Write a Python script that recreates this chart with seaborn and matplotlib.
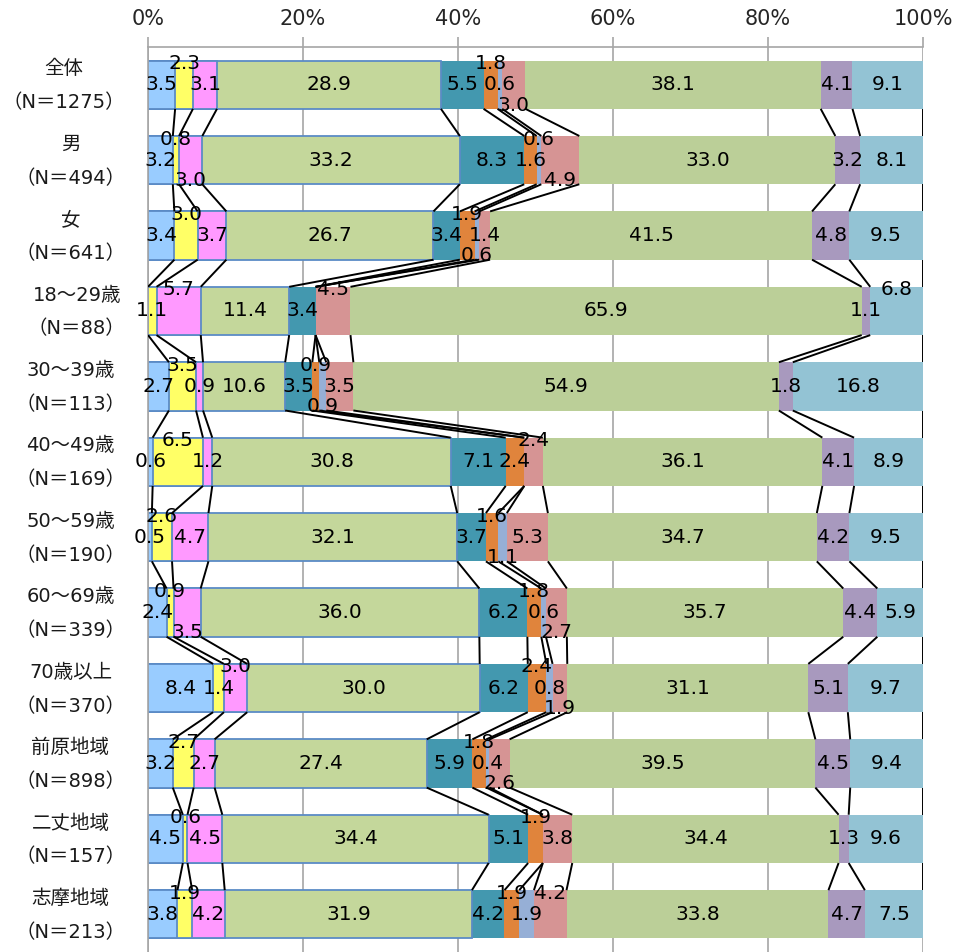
import numpy as np
import pandas as pd
import matplotlib
matplotlib.use("Agg")
import matplotlib.pyplot as plt
import matplotlib.transforms as mtransforms
import seaborn as sns

# ---- data -------------------------------------------------------------
groups = ["全体", "男", "女", "18〜29歳", "30〜39歳", "40〜49歳", "50〜59歳",
          "60〜69歳", "70歳以上", "前原地域", "二丈地域", "志摩地域"]
sizes = [1275, 494, 641, 88, 113, 169, 190, 339, 370, 898, 157, 213]

# share of answers (%) per group, one list per response category
cat01 = [3.5, 3.2, 3.4, 0.0, 2.7, 0.6, 0.5, 2.4, 8.4, 3.2, 4.5, 3.8]
cat02 = [2.3, 0.8, 3.0, 1.1, 3.5, 6.5, 2.6, 0.9, 1.4, 2.7, 0.6, 1.9]
cat03 = [3.1, 3.0, 3.7, 5.7, 0.9, 1.2, 4.7, 3.5, 3.0, 2.7, 4.5, 4.2]
cat04 = [28.9, 33.2, 26.7, 11.4, 10.6, 30.8, 32.1, 36.0, 30.0, 27.4, 34.4, 31.9]
cat05 = [5.5, 8.3, 3.4, 3.4, 3.5, 7.1, 3.7, 6.2, 6.2, 5.9, 5.1, 4.2]
cat06 = [1.8, 1.6, 1.9, 0.0, 0.9, 2.4, 1.6, 1.8, 2.4, 1.8, 1.9, 1.9]
cat07 = [0.6, 0.6, 0.6, 0.0, 0.9, 0.0, 1.1, 0.6, 0.8, 0.4, 0.0, 1.9]
cat08 = [3.0, 4.9, 1.4, 4.5, 3.5, 2.4, 5.3, 2.7, 1.9, 2.6, 3.8, 4.2]
cat09 = [38.1, 33.0, 41.5, 65.9, 54.9, 36.1, 34.7, 35.7, 31.1, 39.5, 34.4, 33.8]
cat10 = [4.1, 3.2, 4.8, 1.1, 1.8, 4.1, 4.2, 4.4, 5.1, 4.5, 1.3, 4.7]
cat11 = [9.1, 8.1, 9.5, 6.8, 16.8, 8.9, 9.5, 5.9, 9.7, 9.4, 9.6, 7.5]

series = [cat01, cat02, cat03, cat04, cat05, cat06, cat07, cat08, cat09, cat10, cat11]
series_names = [f"cat{i + 1:02d}" for i in range(len(series))]
x_ticks = [0, 20, 40, 60, 80, 100]
x_tick_labels = ["0%", "20%", "40%", "60%", "80%", "100%"]

# ---- styling ------------------------------------------------------------
colors = ["#99CCFF", "#FFFF66", "#FF99FF", "#C4D79B", "#4398AF", "#E0843C",
          "#96AFD6", "#D69494", "#BBCF98", "#A899BE", "#93C3D4"]
outlined = [True, True, True, True] + [False] * 7
edge_blue = "#5B8BC6"
grid_gray = "#A6A6A6"
bar_width = 0.64

sns.set_theme(style="white")
plt.rcParams["font.family"] = ["DejaVu Sans", "Noto Sans CJK JP"]

# ---- table ------------------------------------------------------------------
labels = [f"{g}\n（N＝{n}）" for g, n in zip(groups, sizes)]
values = np.array(series, dtype=float).T            # rows = groups
totals = values.sum(axis=1, keepdims=True)
shares = values / totals * 100                       # 100% stacked
cum_end = np.cumsum(shares, axis=1)
cum_start = cum_end - shares

long = pd.DataFrame({
    "label": np.repeat(labels, len(series)),
    "series": series_names * len(labels),
    "value": values.ravel(),
    "end": cum_end.ravel(),
})

fig = plt.figure(figsize=(9.54, 9.52), dpi=100)
ax = fig.add_axes([148 / 954, 0, 775 / 954, 905 / 952])

# stacked bars: draw cumulative totals from the outermost series inwards
for k in reversed(range(len(series))):
    part = long[long["series"] == series_names[k]]
    sns.barplot(data=part, x="end", y="label", order=labels, orient="h",
                color=colors[k], saturation=1, width=bar_width, errorbar=None,
                edgecolor=edge_blue if outlined[k] else "none",
                linewidth=1.3 if outlined[k] else 0, ax=ax, zorder=2)

# series lines joining each category boundary between neighbouring bars
half = bar_width / 2
for i in range(len(labels) - 1):
    for k in range(len(series)):
        ax.plot([cum_end[i, k], cum_end[i + 1, k]], [i + half, i + 1 - half],
                color="black", lw=1.4, zorder=3, solid_capstyle="butt")

ax.set_xlim(0, 100)
ax.set_ylim(len(labels) - 0.5, -0.5)
ax.set_xlabel("")
ax.set_ylabel("")

# ---- value labels, staggered where neighbours would collide ---------------------
renderer = fig.canvas.get_renderer()
px_per_unit = ax.transData.transform((1, 0))[0] - ax.transData.transform((0, 0))[0]
gap = 1.5 / px_per_unit
level_dy = {0: 0.0, -1: -0.28, 1: 0.27}
for i in range(len(labels)):
    last_right = {0: -np.inf, -1: -np.inf, 1: -np.inf}
    for k in range(len(series)):
        v = values[i, k]
        if v <= 0:
            continue
        c = cum_start[i, k] + shares[i, k] / 2
        t = ax.text(c, i, f"{v:.1f}", ha="center", va="center",
                    fontsize=14.5, color="black", zorder=4)
        w = t.get_window_extent(renderer).width / px_per_unit
        left = c - w / 2
        chosen = None
        for lvl in (0, -1, 1):
            if left >= last_right[lvl] + gap:
                chosen = lvl
                break
        if chosen is None:
            chosen = min(last_right, key=last_right.get)
            c = last_right[chosen] + gap + w / 2
        t.set_position((c, i + level_dy[chosen]))
        last_right[chosen] = c + w / 2

# ---- axes decoration ----------------------------------------------------------
ax.xaxis.tick_top()
ax.set_xticks(x_ticks, x_tick_labels)
ax.tick_params(axis="x", which="major", direction="out", length=7, width=1.2,
               color=grid_gray, labelsize=15, pad=6, top=True, bottom=False,
               labeltop=True, labelbottom=False)
ax.set_axisbelow(True)
ax.grid(axis="x", color=grid_gray, lw=1.2, zorder=0)
ax.grid(axis="y", visible=False)

# group names with sample sizes, two centred lines beside each bar
ax.set_yticks(range(len(labels)), [""] * len(labels))
ax.tick_params(axis="y", length=0)
label_trans = mtransforms.blended_transform_factory(ax.transAxes, ax.transData)
for i, lab in enumerate(labels):
    ax.text(-0.029, i + 0.015, lab, transform=label_trans, ha="right",
            va="center", multialignment="center", linespacing=2.0,
            fontsize=14, color="#1a1a1a")

for side in ("right", "bottom"):
    ax.spines[side].set_visible(False)
for side in ("top", "left"):
    ax.spines[side].set_color(grid_gray)
    ax.spines[side].set_linewidth(1.2)

fig.savefig("out.png", dpi=100, facecolor="white")
